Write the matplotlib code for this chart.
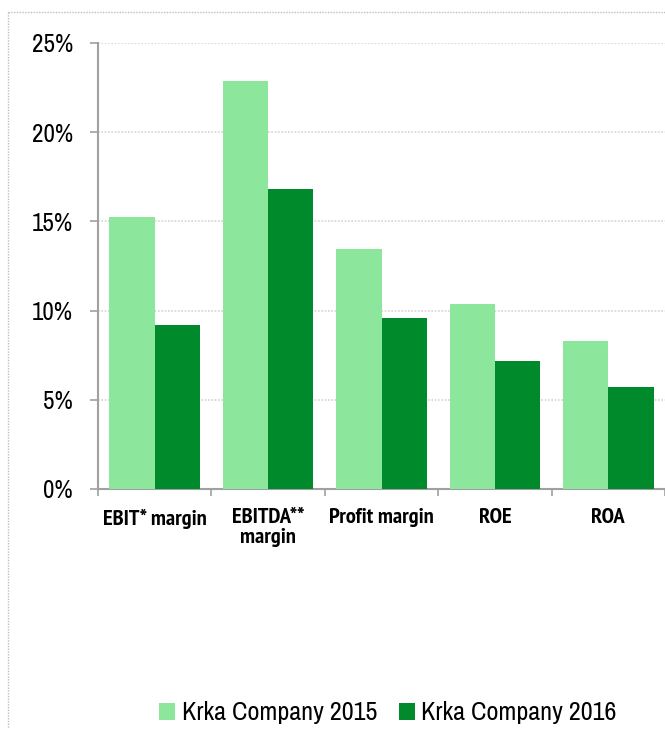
import matplotlib
matplotlib.use("Agg")
import matplotlib.pyplot as plt
from matplotlib.lines import Line2D
from matplotlib import font_manager as fm
import numpy as np

categories = ["EBIT* margin", "EBITDA**\nmargin", "Profit margin", "ROE", "ROA"]
series_names = ["Krka Company 2015", "Krka Company 2016"]
values_2015 = [15.25, 22.87, 13.44, 10.37, 8.28]
values_2016 = [9.19, 16.82, 9.58, 7.16, 5.70]
y_ticks = [0, 5, 10, 15, 20, 25]
y_tick_labels = ["0%", "5%", "10%", "15%", "20%", "25%"]

light = "#8CE69B"
dark = "#008A2B"
axis_gray = "#A0A0A0"


def wnum(w):
    if isinstance(w, str):
        return fm.weight_dict.get(w, 400)
    return int(w)


# look for narrow / condensed sans faces (regular and bold)
cands = []
for f in fm.fontManager.ttflist:
    n = f.name.lower()
    fn = f.fname.lower()
    if "dejavu" in n:
        continue
    score = None
    if "narrow" in n or "narrow" in fn:
        score = 0
    elif "condensed" in n or "condensed" in fn or f.stretch in ("condensed", "semi-condensed"):
        score = 1
    if score is not None and f.style == "normal":
        cands.append((score, f))

reg = None
bold = None
for score, f in sorted(cands, key=lambda t: t[0]):
    w = wnum(f.weight)
    if reg is None and 350 <= w <= 500:
        reg = f
    if bold is None and w >= 650:
        bold = f

if reg is not None:
    fp_reg = fm.FontProperties(fname=reg.fname)
    k = 1.0
else:
    fp_reg = fm.FontProperties(family=['Liberation Sans', 'DejaVu Sans'])
    k = 0.86
if bold is not None:
    fp_bold = fm.FontProperties(fname=bold.fname)
    kb = 1.0
else:
    fp_bold = fm.FontProperties(family=['Liberation Sans', 'DejaVu Sans'], weight='bold')
    kb = 0.80

fig = plt.figure(figsize=(6.65, 7.29), dpi=100)
W, H = 665, 729

# dotted outer frame
fig.add_artist(Line2D([8/W, 8/W], [1-12/H, 0], transform=fig.transFigure,
                      color="#BDBDBD", lw=1, ls=(0, (1, 1))))
fig.add_artist(Line2D([8/W, 1], [1-12/H, 1-12/H], transform=fig.transFigure,
                      color="#BDBDBD", lw=1, ls=(0, (1, 1))))

ax = fig.add_axes([98/W, 1-489/H, (665-98)/W, (489-43)/H])
x = np.arange(len(categories))
bw = 0.4
ax.bar(x - bw/2, values_2015, bw, color=light, label=series_names[0], zorder=3)
ax.bar(x + bw/2, values_2016, bw, color=dark, label=series_names[1], zorder=3)

ax.set_xlim(-0.5, len(categories) - 0.5)
ax.set_ylim(0, 25)
ax.set_yticks(y_ticks)
fp_y = fp_reg.copy()
fp_y.set_size(18 * k)
ax.set_yticklabels(y_tick_labels, fontproperties=fp_y)
ax.yaxis.grid(True, color="#D4D4D4", lw=1.2, ls=(0, (1, 1)), zorder=0)
ax.set_axisbelow(True)

# category boundary ticks on x axis, labels centred
ax.set_xticks(np.arange(len(categories) + 1) - 0.5)
ax.set_xticklabels([])
ax.set_xticks(x, minor=True)
fp_x = fp_bold.copy()
fp_x.set_size(16.2 * kb)
ax.set_xticklabels(categories, minor=True, fontproperties=fp_x, linespacing=1.05)
ax.tick_params(axis="x", which="minor", length=0, pad=14)
ax.tick_params(axis="x", which="major", length=5, width=1.2, color=axis_gray, direction="out")
ax.tick_params(axis="y", length=6, width=1.2, color=axis_gray, pad=12)

for s in ["top", "right"]:
    ax.spines[s].set_visible(False)
for s in ["left", "bottom"]:
    ax.spines[s].set_color(axis_gray)
    ax.spines[s].set_linewidth(1.5)

fp_l = fp_reg.copy()
fp_l.set_size(18.8 * k)
fig.legend(loc="center", bbox_to_anchor=(388/W, 1-713/H), ncol=2, frameon=False,
           prop=fp_l, handlelength=0.6 / k, handleheight=0.6 / k, handletextpad=0.25 / k,
           columnspacing=0.85 / k)

fig.savefig("out.png", dpi=100)
